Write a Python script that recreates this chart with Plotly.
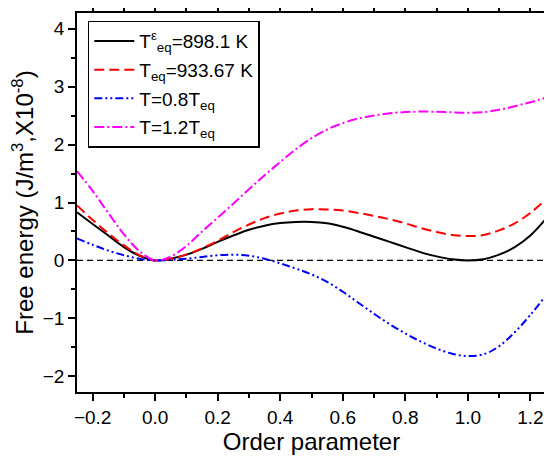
import plotly.graph_objects as go

order_param = [-0.25, -0.2, -0.15, -0.1, -0.05, 0.0, 0.05, 0.1, 0.15, 0.2, 0.25, 0.3, 0.35, 0.4, 0.45, 0.5,
               0.55, 0.6, 0.65, 0.7, 0.75, 0.8, 0.85, 0.9, 0.95, 1.0, 1.05, 1.1, 1.15, 1.2, 1.25]

f_teq_eps = [0.83, 0.63, 0.43, 0.23, 0.08, 0.0, 0.03, 0.10, 0.20, 0.32, 0.43, 0.53, 0.60, 0.645, 0.665, 0.665,
             0.64, 0.58, 0.50, 0.41, 0.32, 0.23, 0.14, 0.07, 0.02, 0.0, 0.02, 0.10, 0.23, 0.43, 0.72]

f_teq = [0.95, 0.70, 0.47, 0.26, 0.09, 0.0, 0.03, 0.10, 0.21, 0.34, 0.49, 0.62, 0.73, 0.81, 0.86, 0.885,
         0.88, 0.86, 0.82, 0.77, 0.71, 0.64, 0.56, 0.49, 0.44, 0.42, 0.44, 0.52, 0.64, 0.82, 1.05]

f_08 = [0.38, 0.27, 0.17, 0.09, 0.03, 0.0, 0.01, 0.03, 0.06, 0.09, 0.10, 0.08, 0.03, -0.05, -0.14, -0.24,
        -0.37, -0.54, -0.73, -0.92, -1.10, -1.26, -1.40, -1.52, -1.61, -1.65, -1.62, -1.48, -1.24, -0.94, -0.60]

f_12 = [1.54, 1.20, 0.82, 0.45, 0.16, 0.0, 0.07, 0.25, 0.50, 0.74, 0.98, 1.23, 1.47, 1.70, 1.92, 2.11,
        2.26, 2.37, 2.45, 2.50, 2.54, 2.56, 2.57, 2.565, 2.555, 2.55, 2.56, 2.60, 2.66, 2.73, 2.81]

names = ["T<sup>ε</sup><sub>eq</sub>=898.1 K", "T<sub>eq</sub>=933.67 K",
         "T=0.8T<sub>eq</sub>", "T=1.2T<sub>eq</sub>"]
series = [f_teq_eps, f_teq, f_08, f_12]
colors = ["black", "#ff0000", "#0000ff", "#ff00ff"]
dashes = ["solid", "10px,5px", "8px,3px,2px,3px,2px,3px", "10px,3px,2px,3px"]

fig = go.Figure()
for i, (nm, ys, c, d) in enumerate(zip(names, series, colors, dashes)):
    fig.add_trace(go.Scatter(x=order_param, y=ys, mode="lines", name=nm, legendgroup=f"g{i}",
                             line=dict(color=c, width=2, dash=d, shape="spline", smoothing=1)))

fig.add_hline(y=0, line=dict(color="black", width=1.3, dash="6px,4px"), layer="below")

axis_common = dict(showline=True, linecolor="black", linewidth=1.5, mirror="ticks",
                   ticks="outside", ticklen=7, tickwidth=1.5, tickcolor="black",
                   showgrid=False, zeroline=False,
                   tickfont=dict(family="Arial, Liberation Sans", size=19, color="black"))

fig.update_layout(
    width=544, height=451,
    margin=dict(l=69, r=6, t=5, b=67, autoexpand=False),
    plot_bgcolor="white", paper_bgcolor="white",
    font=dict(family="Arial, Liberation Sans", color="black"),
    xaxis=dict(range=[-0.25, 1.25], dtick=0.2, tick0=0, tickformat=".1f",
               minor=dict(dtick=0.1, ticks="outside", ticklen=4, tickcolor="black", tickwidth=1.5),
               title=dict(text="Order parameter", font=dict(size=24), standoff=4),
               **axis_common),
    yaxis=dict(range=[-2.27, 4.27], dtick=1, tick0=0,
               minor=dict(dtick=0.5, ticks="outside", ticklen=4, tickcolor="black", tickwidth=1.5),
               title=dict(text="Free energy (J/m<sup>3</sup>,X10<sup>-8</sup>)", font=dict(size=24), standoff=8),
               **axis_common),
    legend=dict(x=0.023, y=0.98, xanchor="left", yanchor="top",
                bordercolor="black", borderwidth=1.5, bgcolor="white",
                font=dict(family="Arial, Liberation Sans", size=19, color="black"),
                tracegroupgap=1, itemwidth=40),
    showlegend=True,
)

fig.write_html("out.html")
